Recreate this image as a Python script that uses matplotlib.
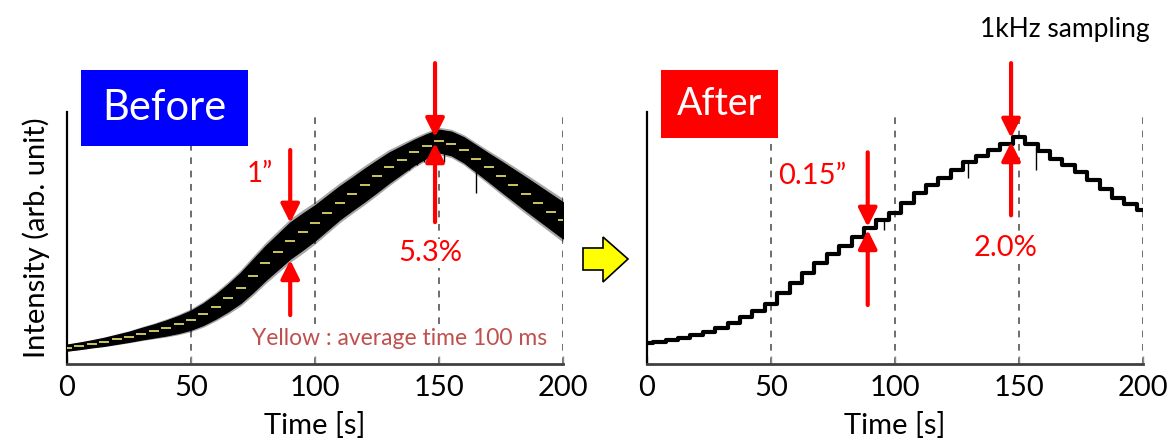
import matplotlib
matplotlib.use("Agg")
import matplotlib.pyplot as plt
from matplotlib.patches import Rectangle, Polygon
import numpy as np

plt.rcParams['font.family'] = ['Lato', 'DejaVu Sans']

# time grid of the read-off levels (s)
t = list(range(0, 205, 5))

# Before: 100 ms average (yellow) and noise half-width of the black band
before_avg = [0.065, 0.072, 0.08, 0.088, 0.098, 0.108, 0.12, 0.131, 0.143, 0.157,
              0.174, 0.198, 0.228, 0.263, 0.302, 0.35, 0.40, 0.445, 0.49, 0.525,
              0.56, 0.60, 0.64, 0.675, 0.71, 0.745, 0.78, 0.81, 0.84, 0.865,
              0.885, 0.875, 0.85, 0.815, 0.78, 0.745, 0.71, 0.675, 0.64, 0.605, 0.57]
before_noise = [0.012, 0.013, 0.014, 0.016, 0.018, 0.02, 0.023, 0.026, 0.03, 0.034,
                0.038, 0.043, 0.048, 0.054, 0.06, 0.065, 0.068, 0.07, 0.072, 0.072,
                0.07, 0.068, 0.066, 0.065, 0.065, 0.063, 0.06, 0.055, 0.05, 0.047,
                0.045, 0.047, 0.05, 0.053, 0.056, 0.06, 0.063, 0.066, 0.068, 0.07, 0.072]
before_spike_t = [138, 141, 144, 152, 165]
before_spike_lo = [0.77, 0.79, 0.80, 0.80, 0.68]

# After: 1 kHz sampling
after_lvl = [0.082, 0.088, 0.095, 0.104, 0.114, 0.127, 0.143, 0.163, 0.187, 0.212,
             0.24, 0.28, 0.32, 0.36, 0.40, 0.435, 0.47, 0.505, 0.54, 0.57,
             0.60, 0.64, 0.68, 0.71, 0.74, 0.77, 0.80, 0.825, 0.85, 0.875,
             0.9, 0.875, 0.845, 0.815, 0.79, 0.76, 0.73, 0.695, 0.66, 0.635, 0.61]
after_spike_t = [95.5, 129.5, 157]
after_spike_lo = [0.53, 0.74, 0.77]

xticks = [0, 50, 100, 150, 200]

W, H = 1169, 443
fig = plt.figure(figsize=(W / 100, H / 100), dpi=100)
ax1 = fig.add_axes([67 / W, 79 / H, 496 / W, 252 / H])
ax2 = fig.add_axes([647 / W, 79 / H, 496 / W, 252 / H])

RED = '#FF0000'


def style_axes(ax):
    ax.set_xlim(0, 200)
    ax.set_ylim(0, 1)
    ax.set_xticks(xticks)
    ax.set_yticks([])
    for s in ['top', 'right']:
        ax.spines[s].set_visible(False)
    ax.spines['left'].set_linewidth(1.6)
    ax.spines['left'].set_color('black')
    ax.spines['bottom'].set_linewidth(2)
    ax.spines['bottom'].set_color('#404040')
    ax.tick_params(axis='x', direction='in', length=6, width=1, color='#888888',
                   labelsize=21, pad=8)
    for x in xticks[1:]:
        ax.axvline(x, color='#555555', lw=1.2, ls=(0, (4, 4)), zorder=0)
    ax.set_xlabel('Time [s]', fontsize=21, labelpad=8)


def arrow(ax, x, y0, y1):
    ax.annotate('', xy=(x, y1), xytext=(x, y0), annotation_clip=False,
                arrowprops=dict(arrowstyle='-|>', color=RED, lw=3,
                                mutation_scale=28, shrinkA=0, shrinkB=0))


style_axes(ax1)
style_axes(ax2)

# Before panel
tt = np.array(t, dtype=float)
avg = np.array(before_avg)
nz = np.array(before_noise)
ax1.fill_between(tt, avg - 1.2 * nz, avg + 1.2 * nz, color='black', alpha=0.35,
                 lw=0, zorder=2)
ax1.fill_between(tt, avg - nz, avg + nz, color='black', lw=0.8, zorder=2)
ax1.vlines(before_spike_t, before_spike_lo,
           np.interp(before_spike_t, t, avg), color='black', lw=1, zorder=2)
ax1.hlines(before_avg, np.clip(tt - 2.0, 0, 200), np.clip(tt + 2.0, 0, 200),
           color='#DCD46A', lw=1.3, zorder=3)
ax1.set_ylabel('Intensity (arb. unit)', fontsize=21, labelpad=12)

arrow(ax1, 90, 0.849, 0.56)
arrow(ax1, 90, 0.194, 0.413)
arrow(ax1, 148.4, 1.194, 0.90)
arrow(ax1, 148.4, 0.563, 0.877)
ax1.text(83, 0.754, '1\u201d', color=RED, fontsize=20, ha='right', va='center')
ax1.text(146.4, 0.44, '5.3%', color=RED, fontsize=21, ha='center', va='center',
         bbox=dict(facecolor='white', edgecolor='none', pad=1))
ax1.text(134, 0.10, 'Yellow : average time 100 ms', color='#C0504D', fontsize=16.5,
         ha='center', va='center',
         bbox=dict(facecolor='white', edgecolor='none', pad=1))

# After panel
ax2.step(t, after_lvl, where='mid', color='black', lw=3, zorder=3)
ax2.vlines(after_spike_t, after_spike_lo,
           np.interp(after_spike_t, t, after_lvl), color='black', lw=1, zorder=2)
arrow(ax2, 89, 0.84, 0.544)
arrow(ax2, 89, 0.234, 0.532)
arrow(ax2, 146.8, 1.194, 0.897)
arrow(ax2, 146.8, 0.59, 0.881)
ax2.text(66.5, 0.746, '0.15\u201d', color=RED, fontsize=21, ha='center', va='center')
ax2.text(144.4, 0.46, '2.0%', color=RED, fontsize=21, ha='center', va='center',
         bbox=dict(facecolor='white', edgecolor='none', pad=1))

# title boxes
fig.patches.append(Rectangle((81 / W, (H - 146) / H), 167 / W, 76 / H,
                             transform=fig.transFigure, facecolor='#0000FF',
                             edgecolor='none', zorder=5))
fig.text(164.5 / W, (H - 108) / H, 'Before', color='white', fontsize=30,
         ha='center', va='center', zorder=6)
fig.patches.append(Rectangle((661 / W, (H - 138) / H), 117 / W, 68 / H,
                             transform=fig.transFigure, facecolor=RED,
                             edgecolor='none', zorder=5))
fig.text(719.5 / W, (H - 104) / H, 'After', color='white', fontsize=27,
         ha='center', va='center', zorder=6)

fig.text(1065 / W, (H - 30) / H, '1kHz sampling', fontsize=19, ha='center', va='center')

# yellow arrow between the panels
pts = [(583, 248), (603, 248), (603, 237), (628, 259), (603, 282), (603, 270), (583, 270)]
fig.patches.append(Polygon([(x / W, (H - y) / H) for x, y in pts], closed=True,
                           transform=fig.transFigure, facecolor='#FFFF00',
                           edgecolor='black', lw=1.2))

fig.savefig('out.png', dpi=100)
